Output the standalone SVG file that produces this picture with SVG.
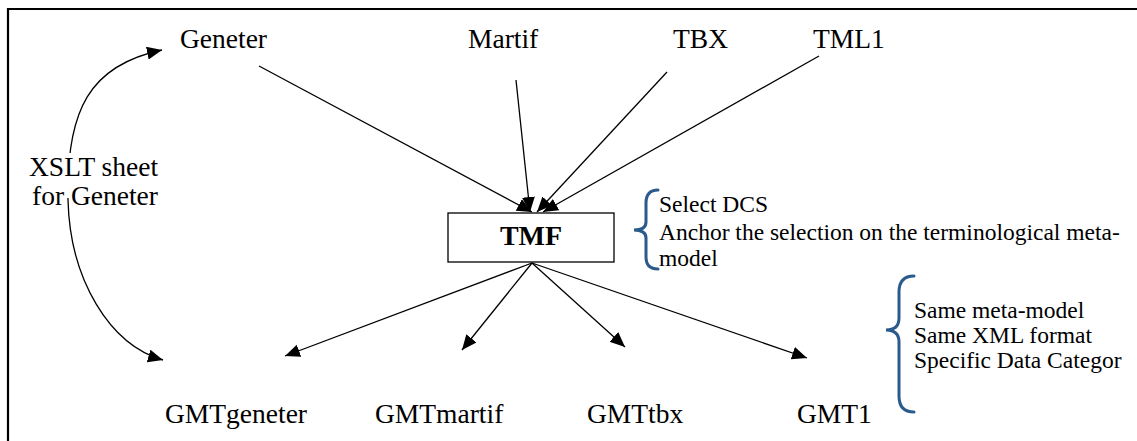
<svg xmlns="http://www.w3.org/2000/svg" width="1137" height="441" viewBox="0 0 1137 441">
  <style>
    .lbl { font-family: "Liberation Serif", "Times New Roman", serif; font-size: 27.5px; fill: #000; }
    .tmf { font-family: "Liberation Serif", "Times New Roman", serif; font-size: 28px; font-weight: bold; fill: #000; }
    .note { font-family: "Liberation Serif", "Times New Roman", serif; font-size: 23.5px; fill: #000; }
    .edge { stroke: #000; stroke-width: 1.3; fill: none; }
    .brace { stroke: #2b5a8c; stroke-width: 3; fill: none; stroke-linecap: round; }
  </style>
  <defs>
    <marker id="arr" markerUnits="userSpaceOnUse" markerWidth="16" markerHeight="14" refX="15" refY="6.5" orient="auto-start-reverse">
      <path d="M0,0 L15,6.5 L0,13 z" fill="#000"/>
    </marker>
  </defs>
  <rect width="1137" height="441" fill="#fff"/>
  <g id="frame">
    <path d="M8,441 L8,9 L1137,9" stroke="#000" stroke-width="2.2" fill="none"/>
  </g>

  <g id="connectors">
    <line class="edge" x1="259" y1="66" x2="532" y2="212" marker-end="url(#arr)"/>
    <line class="edge" x1="516" y1="80" x2="530" y2="212" marker-end="url(#arr)"/>
    <line class="edge" x1="667" y1="72" x2="537" y2="212" marker-end="url(#arr)"/>
    <line class="edge" x1="819" y1="56" x2="543" y2="212" marker-end="url(#arr)"/>
    <line class="edge" x1="532" y1="263" x2="285" y2="356" marker-end="url(#arr)"/>
    <line class="edge" x1="532" y1="263" x2="462" y2="350" marker-end="url(#arr)"/>
    <line class="edge" x1="532" y1="263" x2="625" y2="347" marker-end="url(#arr)"/>
    <line class="edge" x1="532" y1="263" x2="807" y2="358" marker-end="url(#arr)"/>
    <path class="edge" d="M162,50 C90,65 66,110 68,200 C70,280 110,345 163,360" marker-start="url(#arr)" marker-end="url(#arr)"/>
  </g>

  <g id="node-geneter"><text class="lbl" x="180" y="48">Geneter</text></g>
  <g id="node-martif"><text class="lbl" x="468" y="48">Martif</text></g>
  <g id="node-tbx"><text class="lbl" x="673" y="48">TBX</text></g>
  <g id="node-tml1"><text class="lbl" x="813" y="48">TML1</text></g>

  <g id="node-xslt">
    <rect x="25" y="153" width="142" height="45" fill="#fff"/>
    <text class="lbl" x="29" y="176">XSLT sheet</text>
    <text class="lbl" x="32" y="205">for Geneter</text>
  </g>

  <g id="node-tmf">
    <rect x="448" y="213" width="166" height="49" fill="#fff" stroke="#000" stroke-width="1.3"/>
    <text class="tmf" x="531" y="245" text-anchor="middle">TMF</text>
  </g>

  <g id="note-dcs">
    <path class="brace" d="M658,190 Q646,190 646,203 L646,222 Q646,230 634,230 Q646,230 646,238 L646,257 Q646,269 658,269"/>
    <text class="note" x="659" y="212">Select DCS</text>
    <text class="note" x="659" y="240">Anchor the selection on the terminological meta-</text>
    <text class="note" x="659" y="266">model</text>
  </g>

  <g id="note-same">
    <path class="brace" d="M914,276 Q899,276 899,292 L899,318 Q899,330 886,330 Q899,330 899,342 L899,396 Q899,412 914,412"/>
    <text class="note" x="914" y="318">Same meta-model</text>
    <text class="note" x="914" y="343">Same XML format</text>
    <text class="note" x="914" y="368">Specific Data Categor</text>
  </g>

  <g id="node-gmtgeneter"><text class="lbl" x="165" y="423">GMTgeneter</text></g>
  <g id="node-gmtmartif"><text class="lbl" x="375" y="423">GMTmartif</text></g>
  <g id="node-gmttbx"><text class="lbl" x="587" y="423">GMTtbx</text></g>
  <g id="node-gmt1"><text class="lbl" x="797" y="423">GMT1</text></g>
</svg>
